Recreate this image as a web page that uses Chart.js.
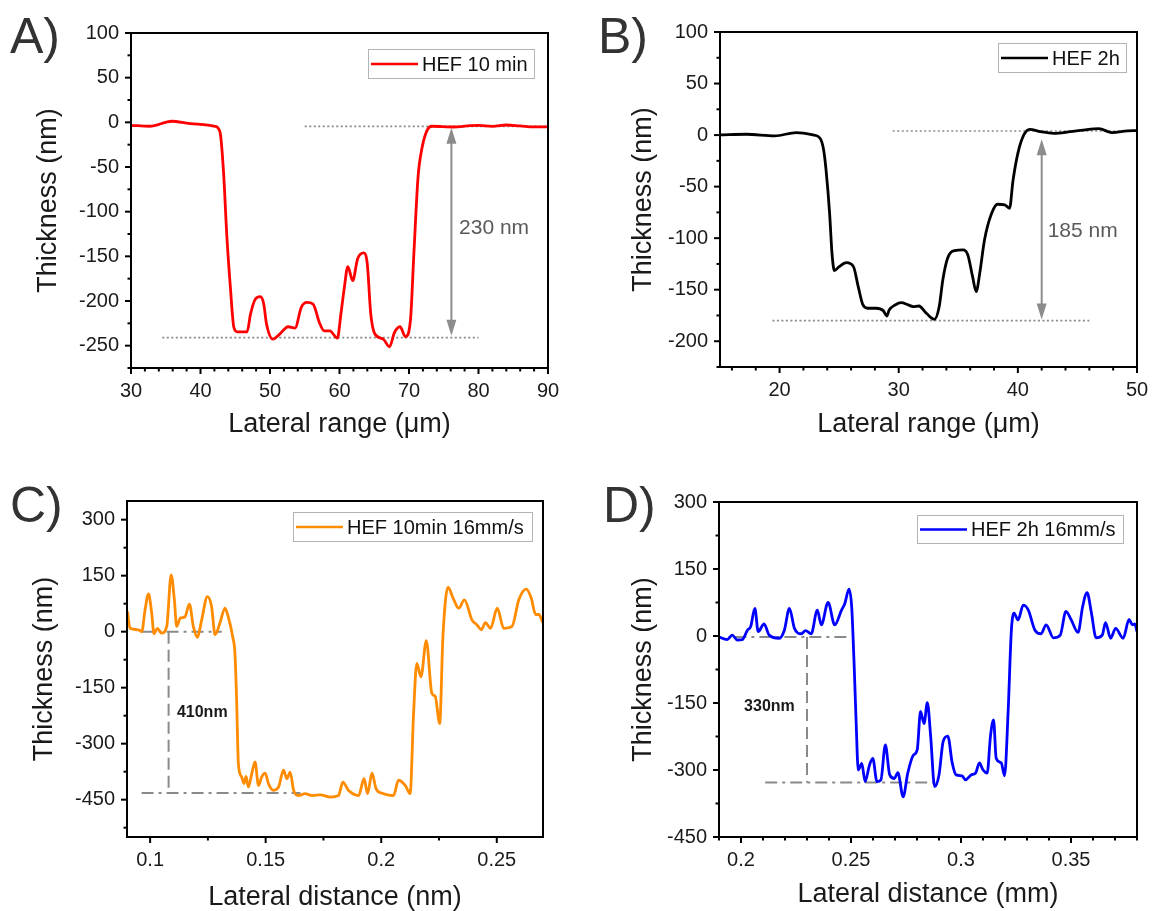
<!DOCTYPE html>
<html>
<head>
<meta charset="utf-8">
<script src="https://cdn.jsdelivr.net/npm/chart.js@4.4.1/dist/chart.umd.min.js"></script>
<style>
  body { margin: 0; width: 1152px; height: 911px; position: relative; overflow: hidden; background: #fff;
         font-family: "Liberation Sans", Arial, sans-serif; }
  canvas { position: absolute; }
  .tag { position: absolute; font-size: 50px; line-height: 1; color: #333; }
</style>
</head>
<body>
<canvas id="cA" width="576" height="455" style="left:0;top:0"></canvas>
<canvas id="cB" width="576" height="455" style="left:576px;top:0"></canvas>
<canvas id="cC" width="576" height="456" style="left:0;top:455px"></canvas>
<canvas id="cD" width="576" height="456" style="left:576px;top:455px"></canvas>
<div class="tag" style="left:10px;top:11px">A)</div>
<div class="tag" style="left:598px;top:11px">B)</div>
<div class="tag" style="left:10px;top:480px">C)</div>
<div class="tag" style="left:603px;top:480px">D)</div>
<script>
// ---- data ----
// A) HEF 10 min
const xA = [30, 32.7, 35.9, 38.5, 42.1, 42.8, 43.3, 43.8, 44.3, 44.8, 45.3, 46.7, 47.2, 47.9, 48.6,
  49.1, 49.5, 50.4, 51.4, 52.6, 53.6, 54.5, 55.3, 56.2, 57.1, 57.8, 58.6, 59.7, 60.2, 60.7,
  61.2, 61.9, 62.6, 63.5, 64.0, 64.5, 65.1, 66.3, 67.2, 67.9, 68.7, 69.5, 70.2, 70.7, 71.3,
  71.9, 72.6, 73.3, 76.4, 78.8, 80, 82, 84, 86, 88, 90];
const yA = [-3.3, -4.4, 1.2, -1.4, -4.4, -10.7, -53.8, -128.6, -184.7, -229.6, -234.5, -234.5, -214.6, -197.8, -195.2,
  -203.4, -225.8, -242.7, -237, -228.8, -230.3, -207.2, -201.6, -203.4, -224, -233.4, -233.4, -241.6, -214.6, -184.7,
  -161.5, -177.2, -152.9, -146.2, -158.7, -214.6, -237, -242.7, -251.3, -235.3, -228.8, -240.1, -222.1, -147.3, -61.3,
  -27.6, -8.9, -4.4, -5.2, -3.7, -3.5, -4.5, -3, -4, -5, -5];

// B) HEF 2h
const xB = [15, 17.2, 19.6, 21.4, 22.8, 23.4, 23.7, 23.9, 24.2, 24.4, 24.6, 25.0, 25.6, 26.2, 26.6,
  27.0, 27.4, 28.1, 28.7, 29.0, 29.2, 29.7, 30.2, 30.8, 31.2, 31.7, 32.2, 32.7, 33.0, 33.4,
  33.7, 34.1, 34.7, 35.4, 35.8, 36.2, 36.5, 36.8, 37.2, 37.8, 38.3, 38.9, 39.3, 39.6, 40.0,
  40.5, 41.0, 41.9, 43.0, 44.4, 45.5, 46.8, 47.9, 49.2, 50];
const yB = [0.1, 0.8, -0.8, 2.4, 0.1, -3.1, -14.5, -33.8, -75.9, -114.7, -131.5, -127.6, -123.8, -127.6, -147,
  -164.8, -168, -168, -170.3, -175.5, -169.7, -164.8, -162.6, -164.8, -166.4, -165.8, -171.3, -177.1, -178.7, -166.4,
  -140.5, -119.5, -112.1, -111.4, -116.3, -137.3, -151.9, -134.1, -101.7, -75.9, -67.1, -67.7, -71, -43.5, -17.7,
  0.1, 5.6, 3.3, 1.7, 3.3, 4.9, 6.2, 2.4, 4.0, 4.3];

// C) HEF 10min 16mm/s
const xC = [0.0902, 0.0913, 0.0949, 0.0964, 0.0978, 0.0993, 0.1007, 0.1017, 0.1031, 0.1050,
  0.1072, 0.1091, 0.1105, 0.1115, 0.1130, 0.1151, 0.1170, 0.1187, 0.1205, 0.1223,
  0.1248, 0.1266, 0.1281, 0.1302, 0.1324, 0.1338, 0.1357, 0.1367, 0.1374, 0.1382,
  0.1396, 0.1406, 0.1415, 0.1425, 0.1440, 0.1454, 0.1469, 0.1483, 0.1498, 0.1512,
  0.1534, 0.1556, 0.1577, 0.1592, 0.1606, 0.1621, 0.1642, 0.1671, 0.1700, 0.1736,
  0.1779, 0.1815, 0.1834, 0.1858, 0.1902, 0.1926, 0.1941, 0.1960, 0.1978, 0.2010,
  0.2053, 0.2075, 0.2104, 0.2125, 0.2140, 0.2154, 0.2172, 0.2195, 0.2219, 0.2234,
  0.2253, 0.2267, 0.2289, 0.2311, 0.2335, 0.2360, 0.2393, 0.2415, 0.2433, 0.2451,
  0.2473, 0.2502, 0.2530, 0.2566, 0.2595, 0.2628, 0.2649, 0.2668, 0.2682, 0.2699];
const yC = [54, 9, 5, 0, 58, 101, 49, -6, 9, -4,
  14, 152, 85, 14, 36, 40, 74, 14, -15, 31,
  94, 67, -8, 23, 63, 40, -13, -58, -175, -354,
  -389, -407, -388, -416, -380, -349, -412, -389, -379, -407,
  -425, -416, -371, -394, -376, -425, -439, -434, -439, -437,
  -443, -439, -403, -425, -439, -394, -434, -379, -421, -434,
  -439, -398, -412, -434, -219, -85, -121, -24, -165, -174,
  -246, -13, 119, 90, 63, 85, 31, 18, 5, 24,
  9, 63, 9, 14, 85, 114, 90, 46, 46, 24];

// D) HEF 2h 16mm/s
const xD = [0.1899, 0.1937, 0.1960, 0.1983, 0.2006, 0.2029, 0.2044, 0.2063, 0.2078, 0.2105,
  0.2128, 0.2174, 0.2197, 0.2220, 0.2243, 0.2274, 0.2293, 0.2319, 0.2347, 0.2365,
  0.2396, 0.2426, 0.2457, 0.2472, 0.2491, 0.2503, 0.2514, 0.2523, 0.2533, 0.2549,
  0.2564, 0.2584, 0.2599, 0.2618, 0.2636, 0.2656, 0.2676, 0.2697, 0.2713, 0.2737,
  0.2758, 0.2783, 0.2801, 0.2816, 0.2832, 0.2847, 0.2862, 0.2880, 0.2900, 0.2919,
  0.2940, 0.2960, 0.2978, 0.3005, 0.3020, 0.3046, 0.3066, 0.3084, 0.3099, 0.3119,
  0.3134, 0.3148, 0.3160, 0.3183, 0.3198, 0.3214, 0.3229, 0.3241, 0.3259, 0.3283,
  0.3306, 0.3336, 0.3364, 0.3387, 0.3420, 0.3451, 0.3477, 0.3501, 0.3532, 0.3553,
  0.3573, 0.3593, 0.3614, 0.3642, 0.3657, 0.3680, 0.3703, 0.3737, 0.3764, 0.3779,
  0.3790, 0.3800];
const yD = [-2, -8, 2, -9, -8, 13, 21, 62, 10, 27,
  2, -5, 13, 62, 17, 5, 12, 5, 58, 25,
  75, 25, 58, 73, 105, 66, -61, -188, -300, -285,
  -326, -289, -274, -326, -322, -244, -311, -319, -306, -360,
  -307, -267, -255, -169, -196, -149, -224, -337, -311, -236,
  -224, -284, -311, -313, -322, -311, -307, -284, -299, -307,
  -224, -188, -274, -284, -313, -172, 13, 51, 36, 69,
  58, 13, 5, 25, -4, 2, 55, 36, 8, 66,
  97, 51, -4, 2, 30, -5, 17, -5, 37, 25,
  27, 10];

// tick labels
const xTicksA = [30, 40, 50, 60, 70, 80, 90];
const yTicksA = [-250, -200, -150, -100, -50, 0, 50, 100];
const xTicksB = [20, 30, 40, 50];
const yTicksB = [-200, -150, -100, -50, 0, 50, 100];
const xTicksC = [0.1, 0.15, 0.2, 0.25];
const yTicksC = [-450, -300, -150, 0, 150, 300];
const xTicksD = [0.2, 0.25, 0.3, 0.35];
const yTicksD = [-450, -300, -150, 0, 150, 300];

// guide lines [x1, y1, x2, y2] and height markers
const guidesA = [[55, -4.5, 90, -4.5], [34.5, -241, 80, -241]];
const guidesB = [[29.5, 4, 50, 4], [19.4, -180, 46, -180]];
const guidesC = [[0.0963, 0, 0.131, 0], [0.0963, -432, 0.165, -432]];
const stemC = [0.108, 0, 0.108, -432];
const guidesD = [[0.197, -2, 0.248, -2], [0.211, -328, 0.289, -328]];
const stemD = [0.23, -2, 0.23, -328];
const arrowA = [76.1, -6, -239];
const arrowB = [42.0, -4, -179];

const FONT = "'Liberation Sans', Arial, sans-serif";
const near = (arr, v) => arr.some(t => Math.abs(t - v) < 1e-7);

// every multiple of step between min and max
function steps(min, max, step) {
  const out = [];
  for (let k = Math.ceil(min / step - 1e-9); k <= Math.floor(max / step + 1e-9); k++) {
    out.push(+(k * step).toFixed(6));
  }
  return out;
}

const frame = {
  id: 'frame',
  afterDraw(chart, args, o) {
    const { ctx, chartArea: a, scales: { x, y } } = chart;
    ctx.save();
    ctx.strokeStyle = '#000';
    ctx.lineWidth = 2;
    x.ticks.forEach(t => {
      const p = x.getPixelForValue(t.value);
      const len = near(o.xLab, t.value) ? 6 : 3.5;
      ctx.beginPath(); ctx.moveTo(p, a.bottom); ctx.lineTo(p, a.bottom + len); ctx.stroke();
    });
    y.ticks.forEach(t => {
      const p = y.getPixelForValue(t.value);
      const len = near(o.yLab, t.value) ? 6 : 3.5;
      ctx.beginPath(); ctx.moveTo(a.left, p); ctx.lineTo(a.left - len, p); ctx.stroke();
    });
    ctx.strokeRect(a.left, a.top, a.width, a.height);

    // double arrow
    if (o.arrow) {
      const px = x.getPixelForValue(o.arrow[0]);
      const p1 = y.getPixelForValue(o.arrow[1]);
      const p2 = y.getPixelForValue(o.arrow[2]);
      const hl = 16, hw = 5;
      ctx.strokeStyle = ctx.fillStyle = '#8c8c8c';
      ctx.lineWidth = 2;
      ctx.beginPath(); ctx.moveTo(px, p1 + hl - 2); ctx.lineTo(px, p2 - hl + 2); ctx.stroke();
      ctx.beginPath(); ctx.moveTo(px, p1); ctx.lineTo(px - hw, p1 + hl); ctx.lineTo(px + hw, p1 + hl); ctx.closePath(); ctx.fill();
      ctx.beginPath(); ctx.moveTo(px, p2); ctx.lineTo(px - hw, p2 - hl); ctx.lineTo(px + hw, p2 - hl); ctx.closePath(); ctx.fill();
    }

    // height note
    if (o.note) {
      ctx.fillStyle = o.note.color;
      ctx.font = o.note.font;
      ctx.textBaseline = 'middle';
      ctx.textAlign = 'left';
      ctx.fillText(o.note.text, x.getPixelForValue(o.note.x), y.getPixelForValue(o.note.y));
    }

    // legend box
    const [bx, by, bw, bh] = o.legend;
    const ds = chart.data.datasets[0];
    ctx.fillStyle = '#fff';
    ctx.fillRect(bx, by, bw, bh);
    ctx.strokeStyle = '#b4b4b4';
    ctx.lineWidth = 1;
    ctx.strokeRect(bx + 0.5, by + 0.5, bw, bh);
    const cy = by + bh / 2 + 0.5;
    ctx.strokeStyle = ds.borderColor;
    ctx.lineWidth = 2.6;
    ctx.beginPath(); ctx.moveTo(bx + 3, cy); ctx.lineTo(bx + 50, cy); ctx.stroke();
    ctx.fillStyle = '#111';
    ctx.font = '20px ' + FONT;
    ctx.textBaseline = 'middle';
    ctx.textAlign = 'left';
    ctx.fillText(ds.label, bx + 54, cy + 1);
    ctx.restore();
  }
};

function panel(id, p) {
  const guideSets = p.guides.map(g => ({
    data: [{ x: g[0], y: g[1] }, { x: g[2], y: g[3] }],
    borderColor: '#8a8a8a', borderWidth: p.guideWidth, borderDash: p.dash,
    pointRadius: 0, tension: 0, fill: false
  }));
  if (p.stem) {
    guideSets.push({
      data: [{ x: p.stem[0], y: p.stem[1] }, { x: p.stem[2], y: p.stem[3] }],
      borderColor: '#8a8a8a', borderWidth: 2, borderDash: [12, 6],
      pointRadius: 0, tension: 0, fill: false
    });
  }
  return new Chart(document.getElementById(id), {
    type: 'line',
    data: {
      datasets: [{
        label: p.label,
        data: p.xs.map((x, i) => ({ x, y: p.ys[i] })),
        borderColor: p.color,
        borderWidth: 2.8,
        pointRadius: 0,
        cubicInterpolationMode: 'monotone',
        fill: false
      }].concat(guideSets)
    },
    options: {
      responsive: false,
      animation: false,
      devicePixelRatio: 1,
      layout: { padding: { left: 0, bottom: 0, top: p.top, right: p.right } },
      plugins: {
        legend: { display: false },
        tooltip: { enabled: false },
        frame: { xLab: p.xLab, yLab: p.yLab, legend: p.legend, arrow: p.arrow, note: p.note }
      },
      scales: {
        x: {
          type: 'linear', min: p.xmin, max: p.xmax,
          grid: { display: false, drawTicks: false }, border: { display: false },
          ticks: {
            autoSkip: false, maxRotation: 0,
            padding: 11, color: '#1a1a1a', font: { family: FONT, size: 20 },
            callback: v => near(p.xLab, v) ? String(+v.toFixed(3)) : ''
          },
          afterBuildTicks: s => { s.ticks = steps(p.xmin, p.xmax, p.xstep).map(v => ({ value: v })); },
          title: { display: true, text: p.xTitle, color: '#1a1a1a', font: { family: FONT, size: 27 },
                   padding: { top: 0, bottom: p.xtPad } },
          afterFit: s => { s.height = p.xh; s.paddingLeft = 0; s.paddingRight = 0; }
        },
        y: {
          type: 'linear', min: p.ymin, max: p.ymax,
          grid: { display: false, drawTicks: false }, border: { display: false },
          ticks: {
            autoSkip: false,
            padding: 12, color: '#1a1a1a', font: { family: FONT, size: 20 },
            callback: v => near(p.yLab, v) ? String(v) : ''
          },
          afterBuildTicks: s => { s.ticks = steps(p.ymin, p.ymax, p.ystep).map(v => ({ value: v })); },
          title: { display: true, text: 'Thickness (nm)', color: '#1a1a1a', font: { family: FONT, size: 27 },
                   padding: { top: p.ytPad, bottom: 0 } },
          afterFit: s => { s.width = p.yw; s.paddingTop = 0; s.paddingBottom = 0; }
        }
      }
    },
    plugins: [frame]
  });
}

panel('cA', {
  label: 'HEF 10 min', color: '#ff0000', xs: xA, ys: yA,
  xmin: 30, xmax: 90, xstep: 2, ymin: -275, ymax: 100, ystep: 25,
  xLab: xTicksA, yLab: yTicksA, xTitle: 'Lateral range (\u03bcm)',
  top: 33, right: 28, yw: 131, xh: 87, xtPad: 14, ytPad: 32,
  guides: guidesA, guideWidth: 1.6, dash: [2, 2.5], arrow: arrowA,
  note: { text: '230 nm', x: 77.2, y: -118, color: '#5a5a5a', font: '21px ' + FONT },
  legend: [368, 49, 166, 29]
});

panel('cB', {
  label: 'HEF 2h', color: '#000000', xs: xB, ys: yB,
  xmin: 15, xmax: 50, xstep: 2, ymin: -225, ymax: 100, ystep: 25,
  xLab: xTicksB, yLab: yTicksB, xTitle: 'Lateral range (\u03bcm)',
  top: 32, right: 15, yw: 144, xh: 88, xtPad: 14, ytPad: 51,
  guides: guidesB, guideWidth: 1.6, dash: [2, 2.5], arrow: arrowB,
  note: { text: '185 nm', x: 42.5, y: -93, color: '#5a5a5a', font: '21px ' + FONT },
  legend: [422, 43, 128, 29]
});

panel('cC', {
  label: 'HEF 10min 16mm/s', color: '#ff8c00', xs: xC, ys: yC,
  xmin: 0.09, xmax: 0.27, xstep: 0.025, ymin: -550, ymax: 350, ystep: 75,
  xLab: xTicksC, yLab: yTicksC, xTitle: 'Lateral distance (nm)',
  top: 46, right: 33, yw: 127, xh: 74, xtPad: -3, ytPad: 28,
  guides: guidesC, guideWidth: 2, dash: [12, 5, 3, 5], stem: stemC,
  note: { text: '410nm', x: 0.1116, y: -218, color: '#1a1a1a', font: 'bold 16px ' + FONT },
  legend: [293, 57, 239, 29]
});

panel('cD', {
  label: 'HEF 2h 16mm/s', color: '#0000ff', xs: xD, ys: yD,
  xmin: 0.19, xmax: 0.38, xstep: 0.01, ymin: -450, ymax: 300, ystep: 75,
  xLab: xTicksD, yLab: yTicksD, xTitle: 'Lateral distance (mm)',
  top: 47, right: 15, yw: 143, xh: 74, xtPad: 0, ytPad: 51,
  guides: guidesD, guideWidth: 2, dash: [12, 5, 3, 5], stem: stemD,
  note: { text: '330nm', x: 0.2014, y: -158, color: '#1a1a1a', font: 'bold 16px ' + FONT },
  legend: [341, 60, 206, 28]
});
</script>
</body>
</html>
